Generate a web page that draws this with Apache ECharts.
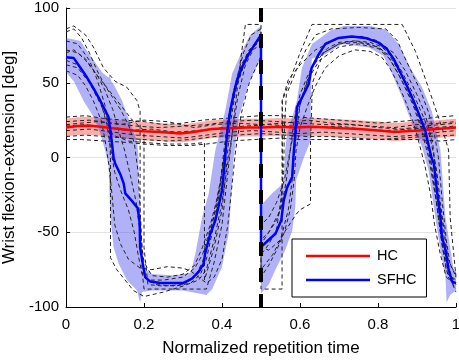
<!DOCTYPE html>
<html>
<head>
<meta charset="utf-8">
<script src="https://cdn.jsdelivr.net/npm/echarts@6/dist/echarts.min.js"></script>
<style>
html, body { margin: 0; padding: 0; background: #fff; }
#main { width: 459px; height: 361px; }
</style>
</head>
<body>
<div id="main"></div>
<script>
var chart = echarts.init(document.getElementById('main'));

var xTicks = [0, 0.2, 0.4, 0.6, 0.8, 1];
var yTicks = [-100, -50, 0, 50, 100];

// HC mean and band
var hcMean = [[0,20],[0.03,21],[0.062,21.3],[0.09,20.5],[0.114,19.8],[0.14,19],[0.173,18],[0.2,17.5],[0.242,17],[0.293,16],[0.327,17],[0.374,19],[0.417,19.5],[0.46,20],[0.5,20],[0.55,20.5],[0.588,20],[0.63,20.5],[0.673,20],[0.71,19.5],[0.75,19],[0.8,18],[0.844,17],[0.87,17.5],[0.904,18],[0.95,19],[1,20]];
var hcUpper = [[0,26],[0.03,27],[0.062,27.3],[0.09,26.5],[0.114,25.8],[0.14,25],[0.173,24],[0.2,23.5],[0.242,23],[0.293,22],[0.327,23],[0.374,25],[0.417,25.5],[0.46,26],[0.5,26],[0.55,26.5],[0.588,26],[0.63,26.5],[0.673,26],[0.71,25.5],[0.75,25],[0.8,24],[0.844,23],[0.87,23.5],[0.904,24],[0.95,25],[1,26]];
var hcLower = [[0,14],[0.03,15],[0.062,15.3],[0.09,14.5],[0.114,13.8],[0.14,13],[0.173,12],[0.2,11.5],[0.242,11],[0.293,10],[0.327,11],[0.374,13],[0.417,13.5],[0.46,14],[0.5,14],[0.55,14.5],[0.588,14],[0.63,14.5],[0.673,14],[0.71,13.5],[0.75,13],[0.8,12],[0.844,11],[0.87,11.5],[0.904,12],[0.95,13],[1,14]];

// SFHC mean and band (two halves)
var sfhcMean = [[0,67],[0.02,66.5],[0.037,60],[0.054,53.5],[0.071,46],[0.088,38],[0.109,27],[0.115,16],[0.122,0],[0.126,-4],[0.139,-11],[0.148,-17.5],[0.152,-24],[0.169,-29],[0.184,-34],[0.189,-44],[0.19,-60],[0.197,-71],[0.203,-80],[0.216,-83],[0.242,-84],[0.276,-84],[0.3,-84],[0.323,-81],[0.34,-76.5],[0.353,-71],[0.357,-64],[0.37,-51],[0.383,-42],[0.391,-33],[0.4,-22],[0.407,-4],[0.413,16],[0.421,31],[0.43,42.5],[0.438,51],[0.451,60],[0.468,69],[0.485,76],[0.5,82],
  [0.5,-60],[0.52,-55],[0.537,-51],[0.552,-42],[0.558,-29],[0.567,-20],[0.58,-13],[0.583,0],[0.588,16],[0.592,33.5],[0.605,40],[0.622,49],[0.63,60],[0.648,69],[0.665,76],[0.699,80],[0.733,81],[0.767,80],[0.8,77],[0.823,72.5],[0.84,66],[0.857,57],[0.874,48],[0.891,38],[0.908,27],[0.921,18],[0.937,0],[0.943,-4],[0.951,-22],[0.96,-40],[0.964,-53],[0.973,-62],[0.981,-75],[0.99,-83],[1,-84]];
var sfhcUpperA = [[0,80],[0.02,79],[0.037,78],[0.054,71],[0.071,65],[0.092,57],[0.109,53.5],[0.112,55],[0.116,51],[0.122,49],[0.144,38],[0.156,29],[0.169,20],[0.182,11],[0.186,0],[0.186,-17],[0.192,-50],[0.195,-65],[0.2,-74],[0.22,-78],[0.28,-79],[0.32,-77],[0.332,-64],[0.349,-40],[0.366,-24],[0.383,5],[0.408,31],[0.426,56],[0.451,71],[0.472,82],[0.5,88]];
var sfhcLowerA = [[0,57],[0.02,51],[0.045,38],[0.071,27],[0.088,16],[0.1,5],[0.109,-5],[0.114,-40],[0.122,-60],[0.135,-71],[0.156,-82],[0.182,-89],[0.19,-97],[0.195,-90],[0.22,-89],[0.3,-89],[0.34,-91],[0.36,-92],[0.375,-88],[0.4,-73],[0.417,-51],[0.426,-17],[0.43,0],[0.443,27],[0.468,49],[0.5,67]];
var sfhcUpperB = [[0.5,-32],[0.528,-24],[0.558,-17],[0.562,5],[0.567,16],[0.58,27],[0.592,38],[0.605,60],[0.631,76],[0.678,85],[0.712,88],[0.78,88],[0.814,86],[0.823,85],[0.853,76],[0.887,58],[0.913,47],[0.938,31],[0.947,20],[0.96,5],[0.973,-40],[0.994,-75],[1,-76]];
var sfhcLowerB = [[0.5,-91],[0.52,-85],[0.537,-75],[0.562,-62],[0.58,-49],[0.588,-33],[0.59,-15],[0.61,0],[0.627,11],[0.628,40],[0.63,66],[0.665,69],[0.708,76],[0.776,73.5],[0.814,68],[0.836,56],[0.862,40],[0.887,22.5],[0.913,7],[0.93,-9],[0.947,-40],[0.96,-62],[0.973,-80],[0.976,-97],[0.985,-92],[1,-89]];

// individual HC trials
var hcTrial1 = [[0,27],[0.05,28],[0.1,26],[0.15,25],[0.2,24],[0.25,22],[0.3,23],[0.35,25],[0.4,26],[0.45,27],[0.5,28],[0.55,28],[0.6,27],[0.65,26],[0.7,25],[0.75,24],[0.8,23],[0.85,24],[0.9,25],[0.95,27],[1,28]];
var hcTrial2 = [[0,24],[0.06,25],[0.12,23],[0.18,21],[0.24,20],[0.3,21],[0.36,22],[0.42,24],[0.48,25],[0.54,24],[0.6,23],[0.66,22],[0.72,22],[0.78,21],[0.84,20],[0.9,22],[0.96,23],[1,24]];
var hcTrial3 = [[0,21],[0.05,22],[0.1,20],[0.16,18],[0.22,19],[0.28,17],[0.34,18],[0.4,20],[0.46,21],[0.52,22],[0.58,21],[0.64,20],[0.7,21],[0.76,19],[0.82,18],[0.88,19],[0.94,20],[1,21]];
var hcTrial4 = [[0,18],[0.06,19],[0.12,17],[0.18,15],[0.24,14],[0.3,13],[0.36,15],[0.42,17],[0.48,18],[0.54,17],[0.6,16],[0.66,17],[0.72,16],[0.78,15],[0.84,14],[0.9,15],[0.96,17],[1,18]];
var hcTrial5 = [[0,14],[0.05,15],[0.1,14],[0.15,13],[0.2,12],[0.26,11],[0.32,12],[0.38,14],[0.44,15],[0.5,16],[0.56,15],[0.62,14],[0.68,14],[0.74,13],[0.8,12],[0.86,13],[0.92,14],[1,15]];
var hcTrial6 = [[0,12],[0.04,12],[0.1,11],[0.16,10],[0.2,9],[0.26,8],[0.32,8],[0.36,9],[0.42,11],[0.48,12],[0.55,13],[0.6,12],[0.63,12],[0.7,12],[0.8,12],[0.9,12],[0.96,11],[1,12]];
var hcTrial7 = [[0,22],[0.08,24],[0.14,22],[0.2,25],[0.26,24],[0.33,20],[0.38,22],[0.44,23],[0.5,22],[0.56,23],[0.62,25],[0.68,23],[0.74,22],[0.8,20],[0.86,19],[0.92,21],[1,23]];

// individual SFHC trials
var sfTrial1 = [[0,86],[0.02,88],[0.05,82],[0.07,74],[0.096,60],[0.126,51],[0.156,47],[0.182,38],[0.19,31],[0.19,-40],[0.195,-75],[0.2,-88],[0.3,-88],[0.36,-88],[0.38,-70],[0.4,-45],[0.415,-10],[0.43,25],[0.445,60],[0.46,89],[0.5,89],[0.5,-58],[0.52,-50],[0.55,-35],[0.555,-20],[0.555,38],[0.6,70],[0.631,89],[0.862,89],[0.896,71],[0.921,53],[0.947,33],[0.964,20],[0.981,5],[0.985,-40],[1,-80]];
var sfTrial2 = [[0,78],[0.03,76],[0.06,65],[0.08,52],[0.1,35],[0.112,15],[0.114,0],[0.114,-67],[0.13,-75],[0.173,-89],[0.2,-93],[0.25,-90],[0.3,-86],[0.34,-82],[0.36,-75],[0.38,-55],[0.4,-30],[0.42,5],[0.44,40],[0.46,62],[0.48,72],[0.5,76],[0.5,-75],[0.53,-65],[0.56,-50],[0.59,-38],[0.6,-35],[0.627,-31],[0.627,11],[0.632,50],[0.66,70],[0.7,76],[0.75,77],[0.8,74],[0.83,68],[0.86,55],[0.89,38],[0.91,25],[0.93,8],[0.945,-20],[0.96,-50],[0.975,-75],[1,-90]];
var sfTrial3 = [[0,70],[0.02,72],[0.05,66],[0.08,55],[0.11,45],[0.14,35],[0.17,25],[0.2,18],[0.2,-60],[0.21,-85],[0.25,-86],[0.3,-85],[0.33,-80],[0.35,-70],[0.37,-50],[0.39,-28],[0.405,0],[0.42,30],[0.44,55],[0.47,72],[0.5,80],[0.5,-88],[0.554,-88],[0.554,38],[0.57,52],[0.6,62],[0.64,72],[0.7,80],[0.76,81],[0.8,78],[0.84,70],[0.87,58],[0.9,42],[0.92,30],[0.94,10],[0.955,-25],[0.97,-55],[0.985,-78],[1,-85]];
var sfTrial4 = [[0,62],[0.03,60],[0.06,50],[0.09,35],[0.12,15],[0.16,11],[0.2,10],[0.26,9],[0.32,9],[0.355,10],[0.355,-82],[0.38,-60],[0.4,-35],[0.41,-10],[0.42,20],[0.435,45],[0.46,65],[0.48,75],[0.5,82],[0.5,-60],[0.52,-62],[0.55,-55],[0.57,-35],[0.58,-15],[0.59,15],[0.6,35],[0.62,52],[0.65,65],[0.7,74],[0.75,76],[0.8,73],[0.83,66],[0.86,52],[0.89,35],[0.91,20],[0.93,0],[0.95,-30],[0.965,-60],[0.98,-80],[1,-88]];
var sfTrial5 = [[0,65],[0.03,62],[0.05,55],[0.07,46],[0.09,36],[0.105,22],[0.115,5],[0.125,-10],[0.14,-22],[0.16,-35],[0.175,-50],[0.185,-65],[0.195,-78],[0.21,-82],[0.25,-82],[0.3,-80],[0.33,-74],[0.35,-65],[0.365,-52],[0.38,-38],[0.395,-18],[0.405,5],[0.415,25],[0.43,45],[0.45,62],[0.47,72],[0.5,78],[0.5,-55],[0.52,-50],[0.54,-42],[0.555,-30],[0.565,-15],[0.575,5],[0.585,25],[0.6,42],[0.62,55],[0.64,65],[0.67,73],[0.7,77],[0.74,78],[0.78,76],[0.81,72],[0.83,66],[0.85,57],[0.87,47],[0.89,36],[0.905,26],[0.92,14],[0.935,-2],[0.945,-20],[0.955,-40],[0.965,-58],[0.975,-70],[0.99,-80],[1,-82]];
var sfTrial6 = [[0,72],[0.03,70],[0.05,65],[0.08,55],[0.1,45],[0.12,32],[0.135,18],[0.15,5],[0.165,-12],[0.18,-30],[0.19,-50],[0.2,-70],[0.22,-79],[0.26,-80],[0.3,-78],[0.33,-72],[0.35,-60],[0.37,-45],[0.385,-30],[0.4,-10],[0.41,10],[0.425,35],[0.44,52],[0.46,66],[0.48,74],[0.5,80],[0.5,-45],[0.52,-40],[0.54,-30],[0.56,-15],[0.575,5],[0.59,25],[0.61,45],[0.63,60],[0.66,70],[0.7,76],[0.74,78],[0.78,77],[0.81,74],[0.84,66],[0.86,58],[0.88,48],[0.9,37],[0.92,25],[0.935,12],[0.95,-8],[0.96,-30],[0.97,-50],[0.98,-68],[1,-80]];
var sfTrial7 = [[0,58],[0.03,55],[0.05,48],[0.07,38],[0.09,25],[0.1,12],[0.11,-5],[0.118,-25],[0.125,-45],[0.14,-58],[0.16,-68],[0.19,-74],[0.22,-75],[0.26,-73],[0.3,-74],[0.32,-76],[0.34,-80],[0.36,-84],[0.38,-80],[0.4,-68],[0.415,-45],[0.425,-20],[0.435,5],[0.45,30],[0.47,50],[0.5,68],[0.5,-80],[0.52,-72],[0.54,-62],[0.56,-50],[0.575,-35],[0.585,-15],[0.59,5],[0.6,20],[0.62,35],[0.64,48],[0.665,60],[0.7,68],[0.74,72],[0.78,71],[0.81,67],[0.83,60],[0.85,50],[0.87,38],[0.89,24],[0.905,10],[0.92,-5],[0.935,-25],[0.945,-45],[0.96,-65],[0.975,-80],[1,-86]];
var sfTrial8 = [[0,84],[0.02,86],[0.04,80],[0.06,70],[0.08,58],[0.1,48],[0.12,40],[0.14,32],[0.16,22],[0.175,10],[0.185,-10],[0.19,-35],[0.195,-60],[0.2,-80],[0.23,-85],[0.28,-86],[0.32,-84],[0.345,-78],[0.36,-68],[0.375,-50],[0.39,-30],[0.4,-12],[0.41,8],[0.42,28],[0.435,50],[0.455,70],[0.475,82],[0.5,86],[0.5,-65],[0.52,-58],[0.54,-48],[0.55,-30],[0.558,-10],[0.56,20],[0.565,42],[0.59,58],[0.615,72],[0.64,82],[0.68,86],[0.75,87],[0.82,86],[0.85,78],[0.87,66],[0.89,55],[0.91,44],[0.93,30],[0.945,15],[0.955,0],[0.965,-30],[0.975,-55],[0.985,-72],[1,-78]];

var markerLine = [[0.5,100],[0.5,-100]];

var font = 'Liberation Sans';

function band(upper, lower, color) {
	return {
		type: 'custom',
		silent: true,
		data: [[0, 0]],
		renderItem: function (params, api) {
			var pts = upper.concat(lower.slice().reverse()).map(function (p) { return api.coord(p); });
			return { type: 'polygon', shape: { points: pts }, style: { fill: color } };
		}
	};
}

function trial(d) {
	return {
		type: 'line', data: d, symbol: 'none', silent: true,
		lineStyle: { color: '#222', width: 1, type: [4, 3] }
	};
}

var series = [
	band(hcUpper, hcLower, 'rgba(240,60,60,0.42)'),
	band(sfhcUpperA, sfhcLowerA, 'rgba(60,60,235,0.4)'),
	band(sfhcUpperB, sfhcLowerB, 'rgba(60,60,235,0.4)')
];
[hcTrial1, hcTrial2, hcTrial3, hcTrial4, hcTrial5, hcTrial6, hcTrial7,
 sfTrial1, sfTrial2, sfTrial3, sfTrial4, sfTrial5, sfTrial6, sfTrial7, sfTrial8].forEach(function (t) {
	series.push(trial(t));
});
series.push({
	name: 'HC', type: 'line', data: hcMean, symbol: 'none',
	lineStyle: { color: '#ff0000', width: 2.5 }, itemStyle: { color: '#ff0000' }
});
series.push({
	name: 'SFHC', type: 'line', data: sfhcMean, symbol: 'none',
	lineStyle: { color: '#0000ff', width: 2.5 }, itemStyle: { color: '#0000ff' }
});
series.push({
	type: 'line', data: markerLine, symbol: 'none', silent: true,
	lineStyle: { color: '#000', width: 4, type: [14, 12] }
});

var option = {
	backgroundColor: '#fff',
	animation: false,
	textStyle: { fontFamily: font },
	grid: { left: 66, right: 3, top: 8, bottom: 54, outerBoundsMode: 'none', containLabel: false },
	legend: {
		data: ['HC', 'SFHC'],
		orient: 'vertical',
		left: 292, top: 239,
		padding: [5, 10, 5, 14],
		icon: 'rect',
		itemWidth: 64, itemHeight: 2.5, itemGap: 0,
		backgroundColor: '#fff',
		borderColor: '#000', borderWidth: 1, borderRadius: 0,
		textStyle: { fontFamily: font, fontSize: 14.5, color: '#000', lineHeight: 24, padding: [0, 0, 0, 2] }
	},
	xAxis: {
		type: 'value', min: 0, max: 1, interval: 0.2,
		name: 'Normalized repetition time', nameLocation: 'middle', nameGap: 33,
		nameTextStyle: { fontFamily: font, fontSize: 17, color: '#000' },
		axisLine: { onZero: false, lineStyle: { color: '#000', width: 1 } },
		axisTick: { inside: true, length: 4, lineStyle: { color: '#000' } },
		axisLabel: { fontFamily: font, fontSize: 15, color: '#000', margin: 10 },
		splitLine: { show: false }
	},
	yAxis: {
		type: 'value', min: -100, max: 100, interval: 50,
		name: 'Wrist flexion-extension [deg]', nameLocation: 'middle', nameGap: 46,
		nameTextStyle: { fontFamily: font, fontSize: 17, color: '#000' },
		axisLine: { show: true, onZero: false, lineStyle: { color: '#000', width: 1 } },
		axisTick: { show: true, inside: true, length: 4, lineStyle: { color: '#000' } },
		axisLabel: { fontFamily: font, fontSize: 15, color: '#000', margin: 7 },
		splitLine: { show: true, lineStyle: { color: '#e3e3e3', width: 1 } }
	},
	series: series
};

chart.setOption(option);
</script>
</body>
</html>
